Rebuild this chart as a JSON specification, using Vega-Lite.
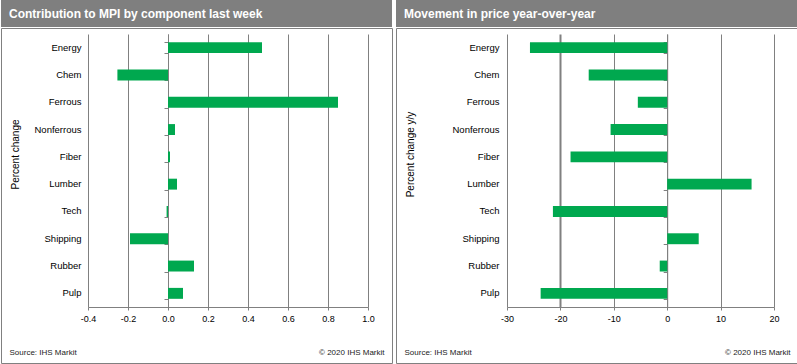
{
  "$schema": "https://vega.github.io/schema/vega-lite/v6.json",
  "padding": 0,
  "background": "white",
  "spacing": 2,
  "config": {"font": "Liberation Sans", "view": {"stroke": null}},
  "datasets": {
    "mpi": [
      {"component": "Energy", "contribution": 0.47, "yoy": -25.7},
      {"component": "Chem", "contribution": -0.253, "yoy": -14.7},
      {"component": "Ferrous", "contribution": 0.85, "yoy": -5.5},
      {"component": "Nonferrous", "contribution": 0.035, "yoy": -10.6},
      {"component": "Fiber", "contribution": 0.01, "yoy": -18.1},
      {"component": "Lumber", "contribution": 0.045, "yoy": 15.8},
      {"component": "Tech", "contribution": -0.007, "yoy": -21.4},
      {"component": "Shipping", "contribution": -0.19, "yoy": 5.9},
      {"component": "Rubber", "contribution": 0.13, "yoy": -1.4},
      {"component": "Pulp", "contribution": 0.075, "yoy": -23.7}
    ]
  },
  "hconcat": [
    {
      "spacing": 0,
      "vconcat": [
        {
          "width": 391,
          "height": 27,
          "view": {"fill": "#7f7f7f", "stroke": null},
          "data": {"values": [{"header": "Contribution  to MPI by component last week"}]},
          "mark": {"type": "text", "align": "left", "baseline": "middle", "dx": -187.5, "color": "#ffffff", "fontSize": 12, "fontWeight": "bold", "font": "Liberation Sans"},
          "encoding": {"text": {"field": "header", "type": "nominal"}}
        },
        {
          "width": 391,
          "height": 335,
          "view": {"fill": "white", "stroke": "#808080", "strokeWidth": 1},
          "data": {"name": "mpi"},
          "layer": [
            {
              "mark": {"type": "bar", "opacity": 0},
              "encoding": {
                "y": {"field": "component", "type": "nominal", "sort": null,
                  "scale": {"range": [6, 279], "paddingInner": 0.6, "paddingOuter": 0.3},
                  "axis": {"orient": "left", "offset": -167, "labels": false, "title": null, "domain": true, "domainColor": "#808080", "domainWidth": 1, "ticks": true, "tickColor": "#808080", "tickSize": 4, "tickWidth": 1, "tickBand": "extent", "grid": false}},
                "x": {"field": "contribution", "type": "quantitative",
                  "scale": {"domain": [-0.4, 1.0], "range": [87, 367], "nice": false, "zero": false},
                  "axis": {"orient": "top", "offset": 0, "values": [-0.4, -0.2, 0, 0.2, 0.4, 0.6, 0.8, 1.0], "grid": true, "gridColor": "#808080", "gridWidth": 1, "gridOpacity": 1, "labels": false, "ticks": false, "domain": false,
                    "title": "© 2020 IHS Markit", "titleX": 383, "titleY": 324.7, "titleAlign": "right", "titleAnchor": null, "titleBaseline": "middle", "titleFontSize": 8, "titleFontWeight": "normal", "titleColor": "#222222", "titleFont": "Liberation Sans"}}
              }
            },
            {
              "mark": {"type": "bar", "color": "#00a84f"},
              "encoding": {
                "y": {"field": "component", "type": "nominal", "sort": null,
                  "scale": {"range": [6, 279], "paddingInner": 0.6, "paddingOuter": 0.3},
                  "axis": {"orient": "left", "offset": -87, "domain": false, "ticks": false, "tickSize": 0, "grid": false, "labelPadding": 7, "labelFontSize": 9.5, "labelColor": "#000000", "labelFont": "Liberation Sans",
                    "title": "Percent change", "titleX": -73, "titleY": 126, "titleBaseline": "middle", "titleAlign": "center", "titleFontSize": 10, "titleFontWeight": "normal", "titleColor": "#000000", "titleFont": "Liberation Sans"}},
                "x": {"field": "contribution", "type": "quantitative",
                  "scale": {"domain": [-0.4, 1.0], "range": [87, 367], "nice": false, "zero": false},
                  "axis": {"orient": "bottom", "offset": -56, "values": [-0.4, -0.2, 0, 0.2, 0.4, 0.6, 0.8, 1.0], "grid": false, "domain": true, "domainColor": "#808080", "domainWidth": 1, "ticks": true, "tickColor": "#808080", "tickSize": 3, "tickWidth": 1,
                    "labelFontSize": 9, "labelColor": "#000000", "labelPadding": 4, "labelFlush": false, "labelOverlap": false, "labelFont": "Liberation Sans",
                    "labelExpr": "replace(format(datum.value, '.1f'), '−', '-')",
                    "title": "Source: IHS Markit", "titleX": 8, "titleY": 45.7, "titleAlign": "left", "titleAnchor": null, "titleBaseline": "middle", "titleFontSize": 8, "titleFontWeight": "normal", "titleColor": "#222222", "titleFont": "Liberation Sans"}}
              }
            }
          ],
          "resolve": {"axis": {"x": "independent", "y": "independent"}}
        }
      ]
    },
    {
      "spacing": 0,
      "vconcat": [
        {
          "width": 402,
          "height": 27,
          "view": {"fill": "#7f7f7f", "stroke": null},
          "data": {"values": [{"header": "Movement in price year-over-year"}]},
          "mark": {"type": "text", "align": "left", "baseline": "middle", "dx": -193, "color": "#ffffff", "fontSize": 12, "fontWeight": "bold", "font": "Liberation Sans"},
          "encoding": {"text": {"field": "header", "type": "nominal"}}
        },
        {
          "width": 402,
          "height": 335,
          "view": {"fill": "white", "stroke": "#808080", "strokeWidth": 1},
          "data": {"name": "mpi"},
          "layer": [
            {
              "mark": {"type": "bar", "opacity": 0},
              "encoding": {
                "y": {"field": "component", "type": "nominal", "sort": null,
                  "scale": {"range": [6, 279], "paddingInner": 0.6, "paddingOuter": 0.3},
                  "axis": {"orient": "left", "offset": -271.2, "labels": false, "title": null, "domain": true, "domainColor": "#808080", "domainWidth": 1, "ticks": true, "tickColor": "#808080", "tickSize": 4, "tickWidth": 1, "tickBand": "extent", "grid": false}},
                "x": {"field": "yoy", "type": "quantitative",
                  "scale": {"domain": [-30, 20], "range": [111, 378], "nice": false, "zero": false},
                  "axis": {"orient": "top", "offset": 0, "values": [-30, -20, -10, 0, 10, 20], "grid": true, "gridColor": "#808080", "gridWidth": {"condition": {"test": "datum.value === -20", "value": 2}, "value": 1}, "gridOpacity": 1, "labels": false, "ticks": false, "domain": false,
                    "title": "© 2020 IHS Markit", "titleX": 394, "titleY": 324.7, "titleAlign": "right", "titleAnchor": null, "titleBaseline": "middle", "titleFontSize": 8, "titleFontWeight": "normal", "titleColor": "#222222", "titleFont": "Liberation Sans"}}
              }
            },
            {
              "mark": {"type": "bar", "color": "#00a84f"},
              "encoding": {
                "y": {"field": "component", "type": "nominal", "sort": null,
                  "scale": {"range": [6, 279], "paddingInner": 0.6, "paddingOuter": 0.3},
                  "axis": {"orient": "left", "offset": -111, "domain": false, "ticks": false, "tickSize": 0, "grid": false, "labelPadding": 8, "labelFontSize": 9.5, "labelColor": "#000000", "labelFont": "Liberation Sans",
                    "title": "Percent change y/y", "titleX": -97, "titleY": 126, "titleBaseline": "middle", "titleAlign": "center", "titleFontSize": 10, "titleFontWeight": "normal", "titleColor": "#000000", "titleFont": "Liberation Sans"}},
                "x": {"field": "yoy", "type": "quantitative",
                  "scale": {"domain": [-30, 20], "range": [111, 378], "nice": false, "zero": false},
                  "axis": {"orient": "bottom", "offset": -56, "values": [-30, -20, -10, 0, 10, 20], "grid": false, "domain": true, "domainColor": "#808080", "domainWidth": 1, "ticks": true, "tickColor": "#808080", "tickSize": 3, "tickWidth": 1,
                    "labelFontSize": 9, "labelColor": "#000000", "labelPadding": 4, "labelFlush": false, "labelOverlap": false, "labelFont": "Liberation Sans",
                    "labelExpr": "replace(format(datum.value, 'd'), '−', '-')",
                    "title": "Source: IHS Markit", "titleX": 8, "titleY": 45.7, "titleAlign": "left", "titleAnchor": null, "titleBaseline": "middle", "titleFontSize": 8, "titleFontWeight": "normal", "titleColor": "#222222", "titleFont": "Liberation Sans"}}
              }
            }
          ],
          "resolve": {"axis": {"x": "independent", "y": "independent"}}
        }
      ]
    }
  ]
}
